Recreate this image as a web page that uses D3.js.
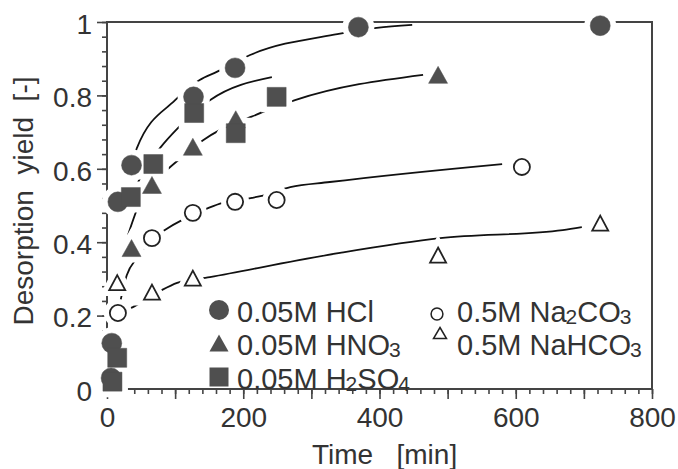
<!DOCTYPE html>
<html>
<head>
<meta charset="utf-8">
<script src="https://cdn.jsdelivr.net/npm/d3@7"></script>
<style>
body { margin: 0; background: #fff; }
text { font-family: "Liberation Sans", Arial, sans-serif; fill: #333; }
</style>
</head>
<body>
<div id="chart"></div>
<script>
// measured points: time [min], desorption yield [-]
var hclTime = [6, 7, 16, 36, 127, 188, 369, 724]
var hclYield = [0.03, 0.125, 0.51, 0.61, 0.796, 0.875, 0.986, 0.99]
var hno3Time = [36, 66, 126, 189, 486]
var hno3Yield = [0.384, 0.556, 0.66, 0.735, 0.856]
var h2so4Time = [8, 15, 35, 68, 128, 189, 249]
var h2so4Yield = [0.02, 0.085, 0.523, 0.613, 0.752, 0.697, 0.796]
var na2co3Time = [16, 66, 126, 188, 249, 609]
var na2co3Yield = [0.207, 0.411, 0.48, 0.51, 0.515, 0.605]
var nahco3Time = [15, 66, 126, 486, 724]
var nahco3Yield = [0.29, 0.264, 0.302, 0.365, 0.452]

// fitted curves as [time, yield]
var hclFit = [[36, 0.61], [44, 0.657], [100, 0.787], [136, 0.842], [161, 0.864], [210, 0.91], [338, 0.967], [396, 0.984], [448, 0.992]]
var h2so4Fit = [[35, 0.523], [45, 0.561], [51, 0.583], [78, 0.657], [104, 0.711], [151, 0.787], [242, 0.85]]
var hno3Fit = [[31, 0.42], [48, 0.507], [66, 0.556], [88, 0.597], [110, 0.632], [141, 0.678], [166, 0.706], [207, 0.738], [232, 0.757], [276, 0.787], [464, 0.856]]
var na2co3Fit = [[16, 0.207], [29, 0.31], [44, 0.357], [68, 0.41], [85, 0.433], [110, 0.46], [127, 0.474], [150, 0.494], [170, 0.507], [188, 0.513], [213, 0.521], [229, 0.527], [269, 0.55], [327, 0.564], [580, 0.613]]
var nahco3Fit = [[16, 0.207], [38, 0.223], [51, 0.237], [81, 0.27], [103, 0.289], [151, 0.305], [342, 0.371], [489, 0.411], [669, 0.433], [697, 0.441]]

var xMajor = [0, 100, 200, 300, 400, 500, 600, 700, 800]
var xLabels = ["0", "", "200", "", "400", "", "600", "", "800"]
var yMajor = [0, 0.2, 0.4, 0.6, 0.8, 1]
var yLabels = ["0", "0.2", "0.4", "0.6", "0.8", "1"]

var legendLabels = ["0.05M HCl", "0.05M HNO_3", "0.05M H_2SO_4", "0.5M Na_2CO_3", "0.5M NaHCO_3"]

var width = 678
var height = 469
var margin = {left: 107, right: 26, top: 22, bottom: 80}
var markFill = "#4f4f4f"

function triangle(w, h) {
    return "M0," + (-h / 2) + "L" + (w / 2) + "," + (h / 2) + "L" + (-w / 2) + "," + (h / 2) + "Z"
}

var marks = {
    hcl: {path: d3.symbol().type(d3.symbolCircle).size(314)(), filled: true},
    hno3: {path: triangle(19, 17), filled: true},
    h2so4: {path: d3.symbol().type(d3.symbolSquare).size(361)(), filled: true},
    na2co3: {path: d3.symbol().type(d3.symbolCircle).size(204)(), filled: false},
    nahco3: {path: triangle(16, 15), filled: false}
}

function zip(xs, ys) {
    return xs.map((x, i) => [x, ys[i]])
}

function create_vis() {
    var svg = d3.select("#chart")
        .append("svg")
        .attr("width", width)
        .attr("height", height)

    var x = d3.scaleLinear().domain([0, 800]).range([margin.left, width - margin.right])
    var y = d3.scaleLinear().domain([0, 1]).range([height - margin.bottom, margin.top])

    // minor ticks
    svg.append("g")
        .attr("transform", "translate(0," + y(0) + ")")
        .call(d3.axisBottom(x).tickValues(d3.range(0, 801, 20)).tickSize(5).tickFormat(""))
        .call(g => g.select(".domain").remove())
    svg.append("g")
        .attr("transform", "translate(" + x(0) + ",0)")
        .call(d3.axisLeft(y).tickValues(d3.range(0, 26).map(i => i * 0.04)).tickSize(5).tickFormat(""))
        .call(g => g.select(".domain").remove())

    // major ticks with labels
    var xAxis = svg.append("g")
        .attr("transform", "translate(0," + y(0) + ")")
        .call(d3.axisBottom(x).tickValues(xMajor).tickSize(10).tickPadding(8)
            .tickFormat((d, i) => xLabels[i]))
    xAxis.select(".domain").remove()
    var yAxis = svg.append("g")
        .attr("transform", "translate(" + x(0) + ",0)")
        .call(d3.axisLeft(y).tickValues(yMajor).tickSize(10).tickPadding(5)
            .tickFormat((d, i) => yLabels[i]))
    yAxis.select(".domain").remove()

    svg.selectAll(".tick line").attr("stroke", "#444").attr("stroke-width", 1.6)
    svg.selectAll(".tick text")
        .style("font-family", "'Liberation Sans', Arial, sans-serif")
        .style("font-size", "28px")
        .attr("fill", "#333")
    yAxis.selectAll(".tick text").attr("dy", "0.4em")

    svg.append("rect")
        .attr("x", x(0))
        .attr("y", y(1))
        .attr("width", x(800) - x(0))
        .attr("height", y(0) - y(1))
        .attr("fill", "none")
        .attr("stroke", "#444")
        .attr("stroke-width", 2)

    // axis titles
    svg.append("text")
        .attr("x", 312)
        .attr("y", 464)
        .style("font-size", "28px")
        .style("white-space", "pre")
        .text("Time   [min]")
    svg.append("text")
        .attr("transform", "translate(33,201) rotate(-90)")
        .attr("text-anchor", "middle")
        .style("font-size", "28px")
        .style("white-space", "pre")
        .text("Desorption  yield  [-]")

    return {svg: svg, x: x, y: y}
}

function draw_curves(vis) {
    var line = d3.line()
        .x(d => vis.x(d[0]))
        .y(d => vis.y(d[1]))
        .curve(d3.curveMonotoneX)

    vis.svg.append("g")
        .selectAll("path")
        .data([hclFit, h2so4Fit, hno3Fit, na2co3Fit, nahco3Fit])
        .enter()
        .append("path")
        .attr("d", line)
        .attr("fill", "none")
        .attr("stroke", "#111")
        .attr("stroke-width", 1.8)
}

function draw_points(vis) {
    var series = [
        {mark: marks.na2co3, pts: zip(na2co3Time, na2co3Yield)},
        {mark: marks.nahco3, pts: zip(nahco3Time, nahco3Yield)},
        {mark: marks.hcl, pts: zip(hclTime, hclYield)},
        {mark: marks.hno3, pts: zip(hno3Time, hno3Yield)},
        {mark: marks.h2so4, pts: zip(h2so4Time, h2so4Yield)}
    ]

    var pos = d => "translate(" + vis.x(d[0]) + "," + vis.y(d[1]) + ")"

    // white halos break the curves around the markers
    var halos = vis.svg.append("g")
    series.forEach(s => {
        halos.selectAll(null)
            .data(s.pts)
            .enter()
            .append("path")
            .attr("d", s.mark.path)
            .attr("transform", pos)
            .attr("fill", "#fff")
            .attr("stroke", "#fff")
            .attr("stroke-width", 12)
    })

    var pts = vis.svg.append("g")
    series.forEach(s => {
        pts.selectAll(null)
            .data(s.pts)
            .enter()
            .append("path")
            .attr("d", s.mark.path)
            .attr("transform", pos)
            .attr("fill", s.mark.filled ? markFill : "#fff")
            .attr("stroke", s.mark.filled ? markFill : "#222")
            .attr("stroke-width", s.mark.filled ? 0.5 : 1.8)
    })
}

// "_3" parts become small subscripts
function add_label(g, label, tx, ty) {
    var text = g.append("text")
        .attr("x", tx)
        .attr("y", ty)
        .style("font-size", "29px")
    var shifted = false
    label.split(/(_\d)/).forEach(part => {
        if (part === "") return
        if (part[0] === "_") {
            text.append("tspan").attr("dx", -1).attr("dy", 2).style("font-size", "21px").text(part.slice(1))
            shifted = true
        } else {
            var t = text.append("tspan").text(part)
            if (shifted) t.attr("dy", -2)
            shifted = false
        }
    })
}

function draw_legend(vis) {
    var g = vis.svg.append("g")
    var rows = [322, 355, 389]
    var col1 = [marks.hcl, marks.hno3, marks.h2so4]

    col1.forEach((m, i) => {
        g.append("path")
            .attr("d", m.path)
            .attr("transform", "translate(219," + (rows[i] - 12) + ")")
            .attr("fill", markFill)
        add_label(g, legendLabels[i], 237, rows[i])
    })

    g.append("path")
        .attr("d", d3.symbol().type(d3.symbolCircle).size(110)())
        .attr("transform", "translate(437,314)")
        .attr("fill", "#fff")
        .attr("stroke", "#222")
        .attr("stroke-width", 1.5)
    add_label(g, legendLabels[3], 457, rows[0])

    g.append("path")
        .attr("d", triangle(13, 11))
        .attr("transform", "translate(440,333)")
        .attr("fill", "#fff")
        .attr("stroke", "#222")
        .attr("stroke-width", 1.5)
    add_label(g, legendLabels[4], 457, rows[1])
}

var vis = create_vis()
draw_curves(vis)
draw_points(vis)
draw_legend(vis)
</script>
</body>
</html>
